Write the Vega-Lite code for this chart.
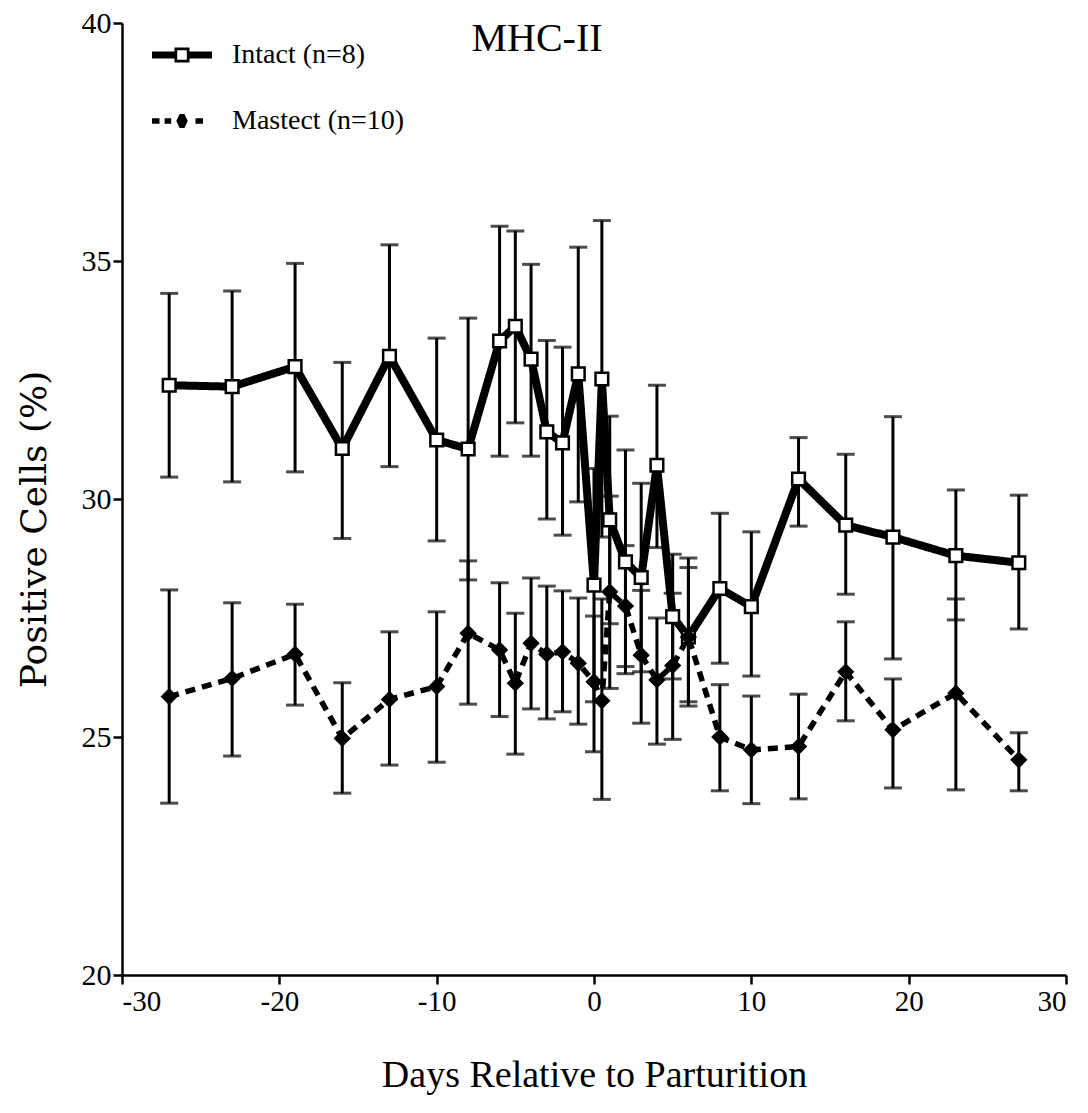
{
  "$schema": "https://vega.github.io/schema/vega-lite/v6.json",
  "width": 944,
  "height": 952,
  "autosize": {"type": "none"},
  "padding": {"left": 122, "top": 23, "right": 22, "bottom": 138},
  "background": "white",
  "title": {"text": "MHC-II", "anchor": "middle", "dx": -57, "offset": -51, "font": "Liberation Serif", "fontSize": 40, "fontWeight": "normal", "color": "black"},
  "config": {
    "view": {"stroke": null},
    "axis": {"grid": false, "domainColor": "black", "domainWidth": 2.5, "tickColor": "black", "tickWidth": 2.5, "tickSize": 9, "labelFont": "Liberation Serif", "labelColor": "black", "titleColor": "black", "titleFontWeight": "normal"},
    "axisX": {"labelFontSize": 29, "labelPadding": 3, "titleFont": "Liberation Serif", "titleFontSize": 38, "titlePadding": 40},
    "axisY": {"labelFontSize": 30, "labelPadding": 2, "titleFont": "DejaVu Serif", "titleFontSize": 36, "titlePadding": 28, "titleY": 506}
  },
  "resolve": {"scale": {"shape": "independent"}},
  "data": {"values": [
    {"group": "Intact (n=8)", "day": -27, "mean": 32.39, "lo": 30.46, "hi": 34.32},
    {"group": "Intact (n=8)", "day": -23, "mean": 32.36, "lo": 30.36, "hi": 34.37},
    {"group": "Intact (n=8)", "day": -19, "mean": 32.78, "lo": 30.57, "hi": 34.95},
    {"group": "Intact (n=8)", "day": -16, "mean": 31.06, "lo": 29.17, "hi": 32.87},
    {"group": "Intact (n=8)", "day": -13, "mean": 33.0, "lo": 30.68, "hi": 35.34},
    {"group": "Intact (n=8)", "day": -10, "mean": 31.24, "lo": 29.12, "hi": 33.38},
    {"group": "Intact (n=8)", "day": -8, "mean": 31.05, "lo": 28.3, "hi": 33.8},
    {"group": "Intact (n=8)", "day": -6, "mean": 33.32, "lo": 30.9, "hi": 35.73},
    {"group": "Intact (n=8)", "day": -5, "mean": 33.63, "lo": 31.6, "hi": 35.63},
    {"group": "Intact (n=8)", "day": -4, "mean": 32.94, "lo": 30.9, "hi": 34.93},
    {"group": "Intact (n=8)", "day": -3, "mean": 31.41, "lo": 29.58, "hi": 33.33},
    {"group": "Intact (n=8)", "day": -2, "mean": 31.18, "lo": 29.24, "hi": 33.19},
    {"group": "Intact (n=8)", "day": -1, "mean": 32.63, "lo": 29.94, "hi": 35.29},
    {"group": "Intact (n=8)", "day": 0, "mean": 28.19, "lo": 25.74, "hi": 30.64},
    {"group": "Intact (n=8)", "day": 0.5, "mean": 32.52, "lo": 29.2, "hi": 35.85},
    {"group": "Intact (n=8)", "day": 1, "mean": 29.56, "lo": 27.38, "hi": 31.74},
    {"group": "Intact (n=8)", "day": 2, "mean": 28.68, "lo": 26.33, "hi": 31.03},
    {"group": "Intact (n=8)", "day": 3, "mean": 28.35, "lo": 26.37, "hi": 30.33},
    {"group": "Intact (n=8)", "day": 4, "mean": 30.71, "lo": 28.98, "hi": 32.39},
    {"group": "Intact (n=8)", "day": 5, "mean": 27.53, "lo": 26.22, "hi": 28.84},
    {"group": "Intact (n=8)", "day": 6, "mean": 27.1, "lo": 25.65, "hi": 28.76},
    {"group": "Intact (n=8)", "day": 8, "mean": 28.12, "lo": 26.55, "hi": 29.7},
    {"group": "Intact (n=8)", "day": 10, "mean": 27.74, "lo": 26.28, "hi": 29.31},
    {"group": "Intact (n=8)", "day": 13, "mean": 30.42, "lo": 29.43, "hi": 31.29},
    {"group": "Intact (n=8)", "day": 16, "mean": 29.45, "lo": 28.0, "hi": 30.94},
    {"group": "Intact (n=8)", "day": 19, "mean": 29.2, "lo": 26.64, "hi": 31.73},
    {"group": "Intact (n=8)", "day": 23, "mean": 28.81, "lo": 27.46, "hi": 30.19},
    {"group": "Intact (n=8)", "day": 27, "mean": 28.66, "lo": 27.27, "hi": 30.08},
    {"group": "Mastect (n=10)", "day": -27, "mean": 25.85, "lo": 23.61, "hi": 28.09},
    {"group": "Mastect (n=10)", "day": -23, "mean": 26.23, "lo": 24.6, "hi": 27.82},
    {"group": "Mastect (n=10)", "day": -19, "mean": 26.74, "lo": 25.67, "hi": 27.79},
    {"group": "Mastect (n=10)", "day": -16, "mean": 24.97, "lo": 23.82, "hi": 26.14},
    {"group": "Mastect (n=10)", "day": -13, "mean": 25.79, "lo": 24.41, "hi": 27.21},
    {"group": "Mastect (n=10)", "day": -10, "mean": 26.06, "lo": 24.47, "hi": 27.63},
    {"group": "Mastect (n=10)", "day": -8, "mean": 27.18, "lo": 25.69, "hi": 28.7},
    {"group": "Mastect (n=10)", "day": -6, "mean": 26.83, "lo": 25.43, "hi": 28.24},
    {"group": "Mastect (n=10)", "day": -5, "mean": 26.13, "lo": 24.64, "hi": 27.6},
    {"group": "Mastect (n=10)", "day": -4, "mean": 26.97, "lo": 25.59, "hi": 28.34},
    {"group": "Mastect (n=10)", "day": -3, "mean": 26.74, "lo": 25.38, "hi": 28.17},
    {"group": "Mastect (n=10)", "day": -2, "mean": 26.79, "lo": 25.53, "hi": 28.07},
    {"group": "Mastect (n=10)", "day": -1, "mean": 26.55, "lo": 25.27, "hi": 27.92},
    {"group": "Mastect (n=10)", "day": 0, "mean": 26.16, "lo": 24.69, "hi": 27.54},
    {"group": "Mastect (n=10)", "day": 0.5, "mean": 25.76, "lo": 23.69, "hi": 27.9},
    {"group": "Mastect (n=10)", "day": 1, "mean": 28.05, "lo": 26.02, "hi": 30.06},
    {"group": "Mastect (n=10)", "day": 2, "mean": 27.75, "lo": 26.48, "hi": 29.02},
    {"group": "Mastect (n=10)", "day": 3, "mean": 26.72, "lo": 25.29, "hi": 28.08},
    {"group": "Mastect (n=10)", "day": 4, "mean": 26.2, "lo": 24.85, "hi": 27.5},
    {"group": "Mastect (n=10)", "day": 5, "mean": 26.5, "lo": 24.95, "hi": 28.02},
    {"group": "Mastect (n=10)", "day": 6, "mean": 27.1, "lo": 25.74, "hi": 28.56},
    {"group": "Mastect (n=10)", "day": 8, "mean": 25.0, "lo": 23.87, "hi": 26.1},
    {"group": "Mastect (n=10)", "day": 10, "mean": 24.73, "lo": 23.6, "hi": 25.86},
    {"group": "Mastect (n=10)", "day": 13, "mean": 24.8, "lo": 23.7, "hi": 25.9},
    {"group": "Mastect (n=10)", "day": 16, "mean": 26.37, "lo": 25.34, "hi": 27.42},
    {"group": "Mastect (n=10)", "day": 19, "mean": 25.15, "lo": 23.93, "hi": 26.22},
    {"group": "Mastect (n=10)", "day": 23, "mean": 25.92, "lo": 23.89, "hi": 27.9},
    {"group": "Mastect (n=10)", "day": 27, "mean": 24.52, "lo": 23.87, "hi": 25.09}
  ]},
  "encoding": {
    "x": {"field": "day", "type": "quantitative", "title": "Days Relative to Parturition", "scale": {"domain": [-30, 30], "nice": false, "zero": false}, "axis": {"values": [-30, -20, -10, 0, 10, 20, 30], "labelExpr": "'' + datum.value"}}
  },
  "layer": [
    {
      "mark": {"type": "rule", "strokeWidth": 3, "color": "black"},
      "encoding": {
        "y": {"field": "lo", "type": "quantitative", "title": "Positive Cells (%)", "scale": {"domain": [20, 40], "nice": false, "zero": false}, "axis": {"values": [20, 25, 30, 35, 40]}},
        "y2": {"field": "hi"}
      }
    },
    {
      "mark": {"type": "tick", "orient": "horizontal", "size": 18, "thickness": 3, "color": "black"},
      "encoding": {
        "y": {"field": "lo", "type": "quantitative", "title": "Positive Cells (%)", "scale": {"domain": [20, 40], "nice": false, "zero": false}, "axis": {"values": [20, 25, 30, 35, 40]}}
      }
    },
    {
      "mark": {"type": "tick", "orient": "horizontal", "size": 18, "thickness": 3, "color": "black"},
      "encoding": {
        "y": {"field": "hi", "type": "quantitative", "title": "Positive Cells (%)", "scale": {"domain": [20, 40], "nice": false, "zero": false}, "axis": {"values": [20, 25, 30, 35, 40]}}
      }
    },
    {
      "mark": {"type": "line", "color": "black"},
      "encoding": {
        "y": {"field": "mean", "type": "quantitative", "title": "Positive Cells (%)", "scale": {"domain": [20, 40], "nice": false, "zero": false}, "axis": {"values": [20, 25, 30, 35, 40]}},
        "strokeWidth": {"field": "group", "type": "nominal", "scale": {"domain": ["Intact (n=8)", "Mastect (n=10)"], "range": [8, 5.5]}, "legend": null},
        "strokeDash": {"field": "group", "type": "nominal", "scale": {"domain": ["Intact (n=8)", "Mastect (n=10)"], "range": [[1, 0], [10, 7]]}, "legend": null}
      }
    },
    {
      "mark": {"type": "point", "filled": true, "stroke": "black", "strokeWidth": 2.5, "opacity": 1},
      "encoding": {
        "y": {"field": "mean", "type": "quantitative", "title": "Positive Cells (%)", "scale": {"domain": [20, 40], "nice": false, "zero": false}, "axis": {"values": [20, 25, 30, 35, 40]}},
        "shape": {"field": "group", "type": "nominal", "scale": {"domain": ["Intact (n=8)", "Mastect (n=10)"], "range": ["square", "diamond"]}, "legend": null},
        "fill": {"field": "group", "type": "nominal", "scale": {"domain": ["Intact (n=8)", "Mastect (n=10)"], "range": ["white", "black"]}, "legend": null},
        "size": {"field": "group", "type": "nominal", "scale": {"domain": ["Intact (n=8)", "Mastect (n=10)"], "range": [160, 190]}, "legend": null}
      }
    },
    {
      "mark": {"type": "point", "filled": true, "opacity": 0, "color": "black"},
      "encoding": {
        "y": {"field": "mean", "type": "quantitative", "title": "Positive Cells (%)", "scale": {"domain": [20, 40], "nice": false, "zero": false}, "axis": {"values": [20, 25, 30, 35, 40]}},
        "shape": {
          "field": "group", "type": "nominal",
          "scale": {"domain": ["Intact (n=8)", "Mastect (n=10)"], "range": [
            "M-1,-0.12L-0.25,-0.12L-0.25,-0.25L0.25,-0.25L0.25,-0.12L1,-0.12L1,0.12L0.25,0.12L0.25,0.25L-0.25,0.25L-0.25,0.12L-1,0.12ZM-0.16,-0.16L-0.16,0.16L0.16,0.16L0.16,-0.16Z",
            "M-1,-0.09L-0.75,-0.09L-0.75,0.09L-1,0.09ZM-0.58,-0.09L-0.36,-0.09L-0.36,0.09L-0.58,0.09ZM-0.08,-0.23L0.08,-0.23L0.19,0L0.08,0.23L-0.08,0.23L-0.19,0ZM0.45,-0.09L0.7,-0.09L0.7,0.09L0.45,0.09Z"
          ]},
          "legend": {
            "title": null, "orient": "none", "legendX": 30, "legendY": 2,
            "symbolSize": 3600, "symbolStrokeWidth": 0, "symbolFillColor": "black", "symbolStrokeColor": "black", "symbolOpacity": 1,
            "labelOffset": 20, "rowPadding": 22,
            "labelFont": "Liberation Serif", "labelFontSize": 28, "labelColor": "black", "labelLimit": 400
          }
        }
      }
    }
  ]
}
